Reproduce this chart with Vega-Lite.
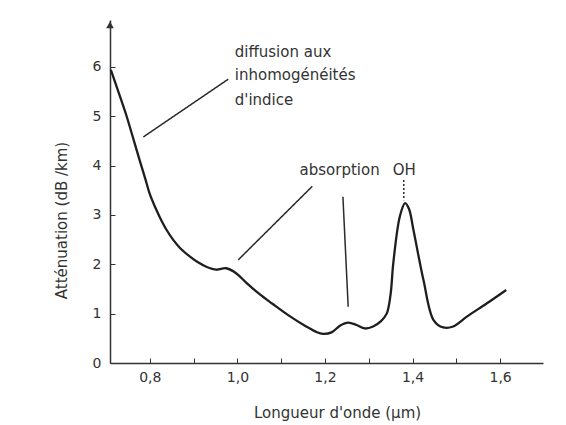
{
  "$schema": "https://vega.github.io/schema/vega-lite/v6.json",
  "width": 433,
  "height": 343,
  "autosize": {"type": "none"},
  "padding": {"left": 110, "top": 20, "right": 23, "bottom": 62},
  "background": "white",
  "config": {
    "view": {"stroke": null},
    "font": "DejaVu Sans",
    "axis": {"labelFont": "DejaVu Sans", "titleFont": "DejaVu Sans", "labelColor": "#333", "titleColor": "#333", "domainColor": "#333", "tickColor": "#333", "grid": false, "titleFontWeight": "normal"}
  },
  "datasets": {
    "curve": [
      {"x": 0.711, "y": 5.94}, {"x": 0.73, "y": 5.45}, {"x": 0.747, "y": 5.0},
      {"x": 0.762, "y": 4.55}, {"x": 0.777, "y": 4.1}, {"x": 0.79, "y": 3.72},
      {"x": 0.8, "y": 3.42}, {"x": 0.812, "y": 3.16}, {"x": 0.823, "y": 2.95},
      {"x": 0.838, "y": 2.7}, {"x": 0.853, "y": 2.5}, {"x": 0.87, "y": 2.32},
      {"x": 0.891, "y": 2.16}, {"x": 0.91, "y": 2.04},
      {"x": 0.929, "y": 1.95}, {"x": 0.952, "y": 1.89}, {"x": 0.974, "y": 1.92},
      {"x": 0.997, "y": 1.82}, {"x": 1.02, "y": 1.63}, {"x": 1.05, "y": 1.4},
      {"x": 1.08, "y": 1.2}, {"x": 1.116, "y": 0.97}, {"x": 1.157, "y": 0.74},
      {"x": 1.18, "y": 0.63}, {"x": 1.196, "y": 0.59}, {"x": 1.215, "y": 0.62},
      {"x": 1.235, "y": 0.76}, {"x": 1.253, "y": 0.82}, {"x": 1.272, "y": 0.77},
      {"x": 1.291, "y": 0.7}, {"x": 1.31, "y": 0.74}, {"x": 1.328, "y": 0.85},
      {"x": 1.341, "y": 1.0}, {"x": 1.35, "y": 1.4}, {"x": 1.356, "y": 2.02},
      {"x": 1.371, "y": 2.97}, {"x": 1.383, "y": 3.24}, {"x": 1.392, "y": 3.12},
      {"x": 1.402, "y": 2.7}, {"x": 1.425, "y": 1.68}, {"x": 1.448, "y": 0.87},
      {"x": 1.47, "y": 0.72}, {"x": 1.493, "y": 0.74}, {"x": 1.524, "y": 0.94},
      {"x": 1.57, "y": 1.21}, {"x": 1.614, "y": 1.48}
    ],
    "leaders": [
      {"x": 0.979, "y": 5.75, "x2": 0.785, "y2": 4.58, "dash": "solid"},
      {"x": 1.171, "y": 3.58, "x2": 1.002, "y2": 2.09, "dash": "solid"},
      {"x": 1.241, "y": 3.37, "x2": 1.253, "y2": 1.14, "dash": "solid"},
      {"x": 1.38, "y": 3.71, "x2": 1.38, "y2": 3.3, "dash": "dotted"}
    ],
    "labels": [
      {"x": 0.994, "y": 6.31, "text": "diffusion aux", "align": "left"},
      {"x": 0.994, "y": 5.84, "text": "inhomogénéités", "align": "left"},
      {"x": 0.994, "y": 5.33, "text": "d'indice", "align": "left"},
      {"x": 1.142, "y": 3.91, "text": "absorption", "align": "left"},
      {"x": 1.381, "y": 3.91, "text": "OH", "align": "center"}
    ],
    "arrow": [{"x": 0.709, "y": 6.85}]
  },
  "layer": [
    {
      "data": {"name": "curve"},
      "mark": {"type": "line", "color": "#1e1e1e", "strokeWidth": 2.3, "interpolate": "catmull-rom"},
      "encoding": {
        "x": {
          "field": "x", "type": "quantitative",
          "scale": {"domain": [0.709, 1.698], "nice": false, "zero": false},
          "axis": {
            "title": "Longueur d'onde (µm)",
            "values": [0.8, 0.9, 1.0, 1.1, 1.2, 1.3, 1.4, 1.5, 1.6],
            "labelExpr": "round(datum.value * 10) % 2 == 0 ? replace(format(datum.value, '.1f'), '.', ',') : ''",
            "tickSize": -5, "labelPadding": 12, "labelFontSize": 14, "domainWidth": 1.5,
            "titleFontSize": 15, "titleX": 227, "titleY": 49, "titleBaseline": "middle", "titleAnchor": null
          }
        },
        "y": {
          "field": "y", "type": "quantitative",
          "scale": {"domain": [0, 6.95], "nice": false},
          "axis": {
            "title": "Atténuation (dB /km)",
            "values": [0, 1, 2, 3, 4, 5, 6],
            "tickSize": -5, "labelPadding": 14, "labelFontSize": 14, "domainWidth": 1.5,
            "titleFontSize": 15, "titleX": -49, "titleY": 200, "titleBaseline": "middle", "titleAnchor": null
          }
        }
      }
    },
    {
      "data": {"name": "leaders"},
      "mark": {"type": "rule", "color": "#2a2a2a", "strokeWidth": 1.5},
      "encoding": {
        "x": {"field": "x", "type": "quantitative"},
        "y": {"field": "y", "type": "quantitative"},
        "x2": {"field": "x2"},
        "y2": {"field": "y2"},
        "strokeDash": {"field": "dash", "type": "nominal", "scale": {"domain": ["solid", "dotted"], "range": [[1, 0], [2, 2]]}, "legend": null}
      }
    },
    {
      "data": {"name": "labels"},
      "transform": [{"filter": "datum.align == 'left'"}],
      "mark": {"type": "text", "align": "left", "baseline": "middle", "fontSize": 15, "color": "#333"},
      "encoding": {
        "x": {"field": "x", "type": "quantitative"},
        "y": {"field": "y", "type": "quantitative"},
        "text": {"field": "text"}
      }
    },
    {
      "data": {"name": "labels"},
      "transform": [{"filter": "datum.align == 'center'"}],
      "mark": {"type": "text", "align": "center", "baseline": "middle", "fontSize": 15, "color": "#333"},
      "encoding": {
        "x": {"field": "x", "type": "quantitative"},
        "y": {"field": "y", "type": "quantitative"},
        "text": {"field": "text"}
      }
    },
    {
      "data": {"name": "arrow"},
      "mark": {"type": "point", "shape": "triangle-up", "filled": true, "size": 60, "color": "#333", "opacity": 1},
      "encoding": {
        "x": {"field": "x", "type": "quantitative"},
        "y": {"field": "y", "type": "quantitative"}
      }
    }
  ]
}
